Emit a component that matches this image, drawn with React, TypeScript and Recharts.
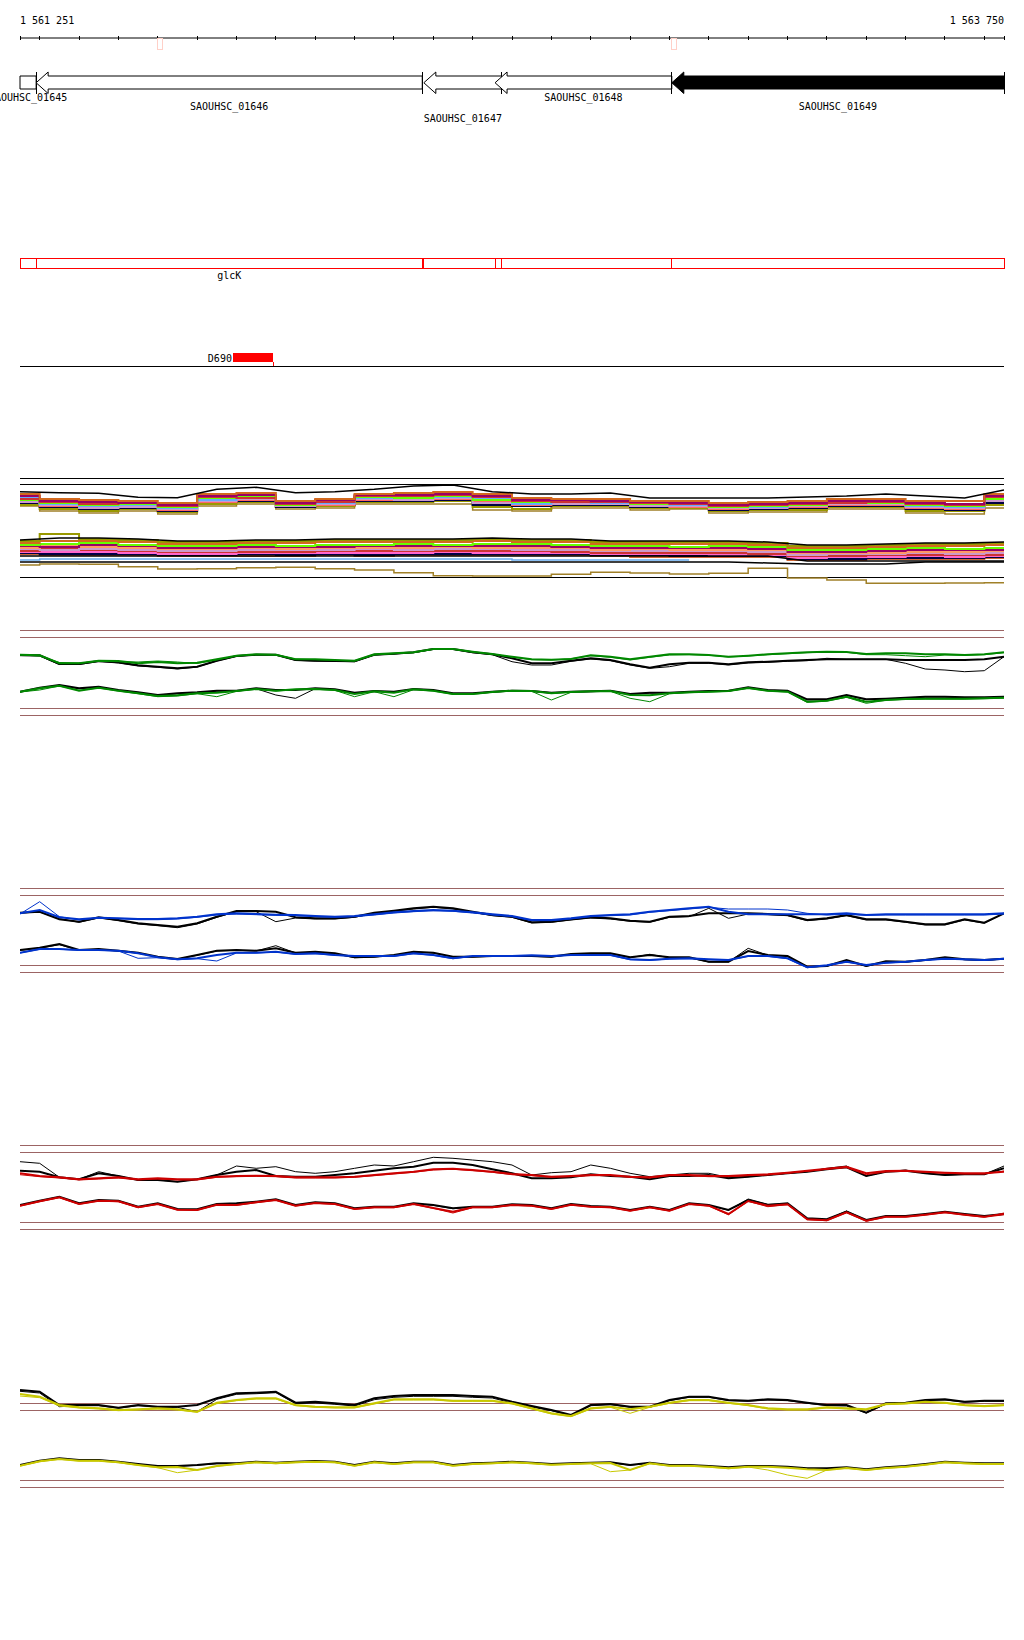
import React from "react";
import { ComposedChart, Line, XAxis, YAxis, ReferenceLine, ReferenceArea } from "recharts";

// genomic window shown
const START = 1561250;
const END = 1563750;
const START_LABEL = "1 561 251";
const END_LABEL = "1 563 750";

const RULER_TICKS = [
  1561250, 1561300, 1561400, 1561500, 1561600, 1561700, 1561800, 1561900, 1562000, 1562100,
  1562200, 1562300, 1562400, 1562500, 1562600, 1562700, 1562800, 1562900, 1563000, 1563100,
  1563200, 1563300, 1563400, 1563500, 1563600, 1563700, 1563750,
];
const MARKERS = [
  [1561600, 1561612],
  [1562906, 1562918],
];

const GENE_NAMES = ["SAOUHSC_01645", "SAOUHSC_01646", "SAOUHSC_01647", "SAOUHSC_01648", "SAOUHSC_01649"];
const GENE_START = [1561250, 1561291, 1562276, 1562457, 1562906];
const GENE_END = [1561291, 1562272, 1562474, 1562906, 1563750];

const OPERON_START = [1561250, 1561291, 1562276, 1562457, 1562474, 1562906];
const OPERON_END = [1561291, 1562272, 1562457, 1562474, 1562906, 1563750];
const OPERON_NAME = "glcK";

const FEATURE_NAME = "D690";
const FEATURE_START = 1561791;
const FEATURE_END = 1561894;

// sample positions (bp from START)
const SAMPLE_BP = [
  0, 50, 100, 150, 200, 250, 300, 350, 400, 450, 500, 550, 600, 650, 700, 750, 800, 850, 900, 950,
  1000, 1050, 1100, 1150, 1200, 1250, 1300, 1350, 1400, 1450, 1500, 1550, 1600, 1650, 1700, 1750,
  1800, 1850, 1900, 1950, 2000, 2050, 2100, 2150, 2200, 2250, 2300, 2350, 2400, 2450, 2500,
];
const BIN_BP = [
  0, 100, 200, 300, 400, 500, 600, 700, 800, 900, 1000, 1100, 1200, 1300, 1400, 1500, 1600, 1700,
  1800, 1900, 2000, 2100, 2200, 2300, 2400, 2500,
];

// multi-sample track (levels)
const A_TOP_BLACK = [98.3, 97.3, 96.7, 92.7, 92.3, 100.7, 102.7, 97.3, 98.3, 100.7, 104, 105, 98.3, 96, 96, 97, 92, 92, 92, 92, 93, 94, 96, 94, 92, 100];
const A1 = [96, 91, 90, 89, 87, 96, 97, 89, 91, 96, 97, 98, 96, 92, 91, 91, 89, 89, 87, 88, 89, 91, 91, 89, 89, 96];
const A2 = [94, 89, 88, 87, 85, 94, 95, 87, 90, 95, 95, 96, 94, 90, 90, 89, 88, 87, 85, 86, 87, 89, 89, 87, 86, 94];
const A3 = [90, 87, 85, 86, 83, 92, 93, 85, 88, 93, 92, 94, 90, 88, 89, 88, 86, 86, 83, 84, 85, 88, 87, 85, 84, 91];
const A4 = [92, 86, 84, 85, 82, 90, 94, 86, 87, 92, 93, 93, 92, 86, 88, 87, 87, 85, 84, 83, 86, 87, 88, 84, 83, 92];
const A5 = [88, 85, 82, 83, 81, 89, 91, 84, 86, 91, 90, 92, 87, 87, 86, 86, 84, 84, 82, 82, 84, 86, 86, 83, 82, 89];
const A6 = [89, 84, 83, 84, 80, 88, 90, 84, 85, 90, 91, 91, 89, 85, 87, 86, 85, 83, 81, 83, 83, 85, 85, 82, 81, 90];
const A7 = [87, 83, 81, 82, 79, 88, 89, 83, 85, 89, 89, 90, 85, 84, 85, 85, 83, 83, 80, 81, 82, 84, 84, 81, 80, 87];
const A8 = [85, 81, 79, 81, 78, 86, 88, 83, 84, 88, 88, 89, 83, 81, 84, 84, 82, 82, 79, 80, 80, 83, 83, 79, 79, 85];
const A9 = [91, 88, 86, 87, 84, 93, 92, 86, 88, 94, 94, 95, 93, 89, 88, 88, 87, 86, 84, 85, 86, 87, 88, 86, 85, 93];
const A10 = [84, 79, 77, 79, 76, 84, 86, 81, 82, 86, 86, 86, 80, 79, 82, 82, 80, 81, 77, 78, 78, 81, 81, 77, 76, 82];
const A_MID_BLACK = [50, 52, 52, 51, 49, 49, 50, 50, 51, 51, 51, 51, 52, 51, 51, 49, 49, 49, 49, 48, 45, 45, 46, 47, 47, 48];
const B1 = [49, 56, 51, 50, 48, 48, 49, 49, 50, 50, 50, 50, 51, 50, 50, 48, 48, 48, 48, 47, 44, 44, 45, 46, 46, 47];
const B2 = [47, 49, 49, 48, 46, 46, 47, 47, 48, 48, 48, 48, 49, 48, 48, 46, 46, 46, 46, 45, 42, 42, 43, 44, 44, 45];
const B3 = [45, 46, 47, 45, 44, 44, 45, 44, 45, 45, 46, 45, 46, 46, 45, 44, 44, 43, 44, 43, 40, 40, 41, 42, 41, 42];
const B4 = [44, 43, 45, 44, 42, 42, 43, 43, 43, 44, 44, 44, 44, 44, 43, 42, 42, 42, 42, 41, 38, 38, 39, 40, 40, 40];
const B5 = [42, 44, 43, 42, 41, 41, 42, 41, 42, 42, 42, 43, 42, 42, 42, 40, 41, 40, 40, 40, 37, 37, 37, 38, 38, 39];
const B6 = [41, 40, 41, 40, 39, 39, 40, 40, 40, 41, 40, 41, 41, 40, 40, 39, 39, 39, 39, 38, 35, 36, 36, 37, 36, 37];
const B7 = [39, 41, 40, 39, 38, 38, 38, 38, 39, 39, 39, 39, 39, 39, 38, 37, 37, 37, 37, 36, 34, 34, 35, 35, 35, 35];
const B8 = [38, 38, 38, 37, 36, 36, 37, 37, 37, 37, 37, 38, 37, 37, 37, 36, 36, 36, 35, 35, 32, 33, 33, 34, 33, 34];
const B9 = [37, 36, 36, 36, 35, 35, 36, 35, 36, 35, 36, 36, 36, 36, 36, 35, 35, 34, 34, 34, 31, 31, 32, 32, 32, 33];
const B10 = [36, 35, 35, 35, 34, 34, 34, 34, 35, 34, 35, 35, 35, 35, 35, 34, 33, 33, 33, 33, 30, 30, 31, 31, 31, 32];
const A_LO_BLACK1 = [34, 34, 34, 34, 34, 34, 34, 34, 34, 34, 34, 34, 34, 34, 34, 34, 34, 34, 34, 34, 29, 29, 29, 29, 29, 29];
const A_LO_BLUE = [30, 31, 31, 31, 31, 31, 31, 31, 31, 31, 31, 31, 31, 30, 30, 30, 30, 30, null, null, null, null, null, null, null, null];
const A_LO_BLACK2 = [28, 28, 28, 28, 28, 28, 28, 28, 28, 28, 28, 28, 28, 28, 28, 28, 28, 28, 28, 27, 26, 26, 26, 28, 28, 28];
const A_OLIVE = [25, 26, 25.7, 23.3, 21, 21.3, 22.3, 22.7, 21.3, 20, 17.3, 14.3, 14, 14, 15.7, 17.7, 17, 16, 16.7, 21.7, 12, 10, 6.7, 6.7, 7, 7.3];

// green track
const G_UP_GREEN = [65.3, 64.7, 56.7, 56.7, 59.3, 59, 56.7, 58, 56.7, 57.3, 60.7, 64.3, 65.7, 65.3, 60.7, 60.7, 60, 59.3, 65.7, 66.7, 67.7, 71, 71, 68.3, 66, 63.3, 60.7, 60.3, 61, 64.7, 63.3, 60.7, 63.3, 65.7, 65.7, 65, 63.3, 64.3, 65.7, 66.7, 67.7, 68.3, 68, 66, 66.7, 66.7, 65.7, 65.7, 65, 65.7, 67.7];
const G_UP_GREEN_THIN = [65, 64, 57.5, 57, 58.7, 58.3, 58, 59, 58, 56.5, 60, 64, 65.3, 65, 61, 60.3, 59.7, 59, 65, 66.3, 67.3, 70.7, 70.7, 68, 65.7, 63, 60.3, 60, 61.3, 64.3, 62.7, 60, 62.7, 65, 65.3, 64.7, 63, 64, 65.3, 66.3, 67.3, 68, 67.7, 65.3, 65.3, 64.3, 63.3, 65, 64.7, 65.3, 67.3];
const G_UP_BLACK = [65, 64.7, 56, 56, 59, 57.7, 54.7, 53.3, 51.7, 53.3, 59.3, 64, 65.3, 65.3, 60, 59.3, 59, 58.7, 65.3, 66.3, 67.7, 71, 71, 67.7, 65.7, 61.7, 56.7, 56.7, 59.3, 61.7, 60, 55.7, 52.3, 55.7, 57.3, 57.3, 55.7, 57.7, 58.3, 59.3, 60, 60.7, 60.7, 60.7, 60.7, 60, 60, 60, 60, 60.7, 63.3];
const G_UP_BLACK_THIN = [64.3, 64, 55.5, 55.5, 58.5, 57, 54, 52.7, 51, 53, 59, 63.7, 65, 65, 59.7, 59, 58.7, 58.3, 65, 66, 67.3, 70.7, 70.7, 67.3, 65.3, 58.3, 55, 55, 58.7, 61, 59.3, 55, 51.7, 53.3, 56.7, 56.7, 55, 57, 57.7, 58.7, 59.3, 61.7, 60.7, 60.7, 60.7, 56.7, 51, 50, 48.3, 49.3, 63.3];
const G_LO_BLACK = [28.3, 32.3, 35, 31.7, 33.3, 30, 27.7, 25, 26.7, 27.7, 29.3, 29.3, 31.7, 30, 30, 31.7, 30.7, 27.3, 29, 28.3, 31, 30, 26.7, 26.7, 28.3, 29.3, 29, 27.3, 28.3, 28.7, 29.3, 26, 27.3, 27.3, 28.3, 29, 29.3, 32.7, 30, 29.3, 20.7, 20.7, 25, 20.7, 21.3, 22.3, 23.3, 23.3, 22.7, 22.7, 23.3];
const G_LO_BLACK_THIN = [28, 32, 34.7, 31.3, 33, 29.7, 27.3, 24.7, 26.3, 27.3, 29, 29, 31.3, 25, 21.7, 31.3, 30.3, 27, 28.7, 28, 30.7, 29.7, 26.3, 26.3, 28, 29, 28.7, 27, 28, 28.3, 29, 25.7, 27, 27, 28, 28.7, 29, 32.3, 29.7, 29, 20, 20.3, 24.7, 20.3, 21, 22, 23, 23, 22.3, 22.3, 23];
const G_LO_GREEN = [28.3, 31.7, 34.3, 29.3, 32.3, 29.3, 26.7, 24, 24.7, 26.7, 27.3, 29, 31, 29.3, 30.7, 31, 30, 26, 28.7, 27.3, 30.7, 29.3, 26, 26, 28, 29.3, 29, 26.7, 28, 28.7, 29, 25, 24.7, 26.7, 27.7, 28.3, 29, 32, 29.3, 28.3, 18.3, 19.3, 23.3, 18.3, 20, 21, 21.3, 21.3, 21.3, 21.7, 22.3];
const G_LO_GREEN_THIN = [28, 30, 34, 29.7, 32, 29, 26.3, 23.3, 24, 26.3, 23.3, 28.7, 30.7, 29, 30.3, 30.7, 29.7, 23.3, 28.3, 23.3, 30.3, 29, 25.7, 25.7, 27.7, 29, 28.7, 20, 27.7, 28.3, 28.7, 21.7, 18.3, 26.3, 27.3, 28, 28.7, 31.7, 29, 28, 17.7, 19, 22.7, 16.7, 19.7, 20.7, 21, 21, 21, 21.3, 22];

// blue track
const B_UP_BLACK = [67.3, 68.3, 60.7, 58.3, 62.7, 60, 56.7, 55, 53.3, 56.7, 63.3, 69, 69, 68.3, 62.7, 61.7, 61.7, 63.3, 67.3, 69.3, 71.7, 73.3, 71.7, 68.3, 65, 63.3, 57.7, 58.3, 60.7, 62.7, 61.7, 59.3, 58.3, 63.3, 64, 66.7, 66.7, 66.7, 66, 65, 60, 61.7, 65, 60.7, 60.7, 58.3, 55.7, 55.7, 60.7, 57.3, 66.7];
const B_UP_BLACK_THIN = [67, 68, 61.3, 57.7, 62, 59.3, 56, 54.3, 52.3, 56, 62.7, 68.3, 68.3, 58.3, 62, 61, 61, 62.7, 66.7, 68.7, 71, 72.7, 71, 67.7, 64.3, 62.7, 57, 57.7, 60, 62, 61, 58.7, 57.7, 62.7, 63.3, 71.7, 61.7, 66, 65.3, 64.3, 59.3, 61, 64.3, 60, 60, 57.7, 55, 55, 60, 56.7, 66.7];
const B_UP_BLUE = [66.7, 70, 62.7, 60.7, 62.3, 61.7, 61, 61, 61.7, 63.3, 65.7, 66.7, 66, 65.3, 65, 64, 63.3, 64, 65.7, 67.7, 69, 70, 69.3, 67.7, 65.7, 64, 60, 60, 61.7, 64, 65, 65.7, 68.3, 70, 71.7, 73.3, 68.3, 65.7, 65.7, 65.7, 65.7, 65.7, 66.7, 65, 65.7, 65.7, 65.7, 65.7, 65.7, 65.7, 66.7];
const B_UP_BLUE_THIN = [66, 78.3, 63.3, 60, 62, 61.3, 60.3, 60.3, 61, 62.7, 65, 66, 65.3, 64.7, 64.3, 63.3, 62.7, 63.3, 65, 67, 68.3, 69.3, 68.7, 67, 65, 63.3, 59.3, 59.3, 61, 63.3, 64.3, 65, 67.7, 69.3, 71, 72.7, 71, 71, 71, 70, 66.7, 65, 65.7, 64.7, 65, 65, 65, 65, 65, 65, 66];
const B_LO_BLACK = [30, 32.3, 36, 30, 31, 29.3, 27.3, 23.3, 21, 25, 29.3, 30, 29.3, 31.7, 27.3, 28.3, 26.7, 22.7, 23.3, 25, 28.3, 27.3, 23.3, 23.3, 24, 24, 24, 23.3, 26, 26.7, 26.7, 22.7, 25, 22.7, 22.7, 18.3, 18.3, 29, 25, 24, 13.3, 14, 20, 14, 18.7, 18.3, 20, 22.7, 20.7, 20, 21.3];
const B_LO_BLACK_THIN = [29.7, 31.7, 35.3, 29.7, 30.7, 29, 27, 23, 20.7, 24.7, 29, 29.7, 29, 34.3, 27, 28, 26.3, 22.3, 23, 24.7, 28, 27, 23, 23, 23.7, 23.7, 23.7, 23, 25.7, 26.3, 26.3, 22.3, 25.7, 22.3, 22.3, 18, 18, 31.7, 24.7, 23.7, 13, 13.7, 19.7, 13.7, 18.3, 18, 19.7, 22.3, 20.3, 19.7, 21];
const B_LO_BLUE = [27.3, 31, 31, 30, 30, 29.3, 26.7, 22.7, 20.7, 21.7, 25, 27.3, 27.3, 28.3, 26, 26.7, 25, 24, 24, 24, 26.7, 25, 21.7, 24, 24, 24, 24.7, 24, 25, 25, 25, 20.7, 20, 21.3, 21.7, 20.7, 20, 24, 24, 21.7, 12.7, 14.7, 18.3, 15, 17.3, 18.3, 20, 21.3, 20.7, 20, 21.3];
const B_LO_BLUE_THIN = [27, 30.7, 30.7, 29.7, 29.7, 29, 21.7, 22.3, 20.3, 21.3, 19, 27, 27, 28, 25.7, 26.3, 24.7, 23.7, 23.7, 23.7, 26.3, 24.7, 21.3, 23.7, 23.7, 23.7, 24.3, 23.7, 24.7, 24.7, 24.7, 20.3, 19.7, 21, 21.3, 20.3, 19.7, 23.7, 23.7, 21.3, 12.3, 14.3, 18, 14.7, 17, 18, 19.7, 21, 20.3, 19.7, 21];

// red track
const R_UP_BLACK_THIN = [78.3, 76.7, 62.7, 60.7, 68.3, 64, 60, 60, 58.3, 60.7, 65, 74, 71.7, 73.3, 68.3, 66.7, 68.3, 71.7, 75, 74, 78.3, 82.7, 81.7, 80, 78.3, 75, 65, 67.3, 68.3, 75, 71.7, 66.7, 63.3, 65, 66.7, 66.7, 62.7, 63.3, 65, 66.7, 68.3, 71.7, 74, 64, 68.3, 70, 66.7, 65, 65.7, 65.7, 74];
const R_UP_BLACK = [69.3, 68.3, 62.7, 60.7, 66.7, 64, 60, 60, 58.3, 60.7, 65, 68.3, 70, 64, 63.3, 63.3, 65, 66.7, 69.3, 71.7, 73.3, 77.3, 77.3, 75, 70.7, 66.7, 61.7, 61.7, 62.7, 65.7, 64, 63.3, 60.7, 64, 64, 65, 61.7, 63.3, 65, 66.7, 68.3, 70.7, 72.7, 64, 68.3, 69.3, 66.7, 65, 65.7, 65.7, 71.7];
const R_UP_RED = [66.7, 64, 62.7, 60.7, 61.7, 62.7, 60.7, 61.7, 60.7, 60.7, 63.3, 64, 64.3, 64, 62.7, 62.7, 62.7, 63.3, 65, 66.7, 68.3, 70.7, 71.3, 70, 68.3, 66, 65, 63.3, 64, 65, 65, 63.3, 62.7, 65, 65, 64, 64, 65, 65.7, 67.3, 69.3, 71.3, 73.3, 66.7, 69, 69.3, 68.3, 67.3, 66.7, 66.7, 68.3];
const R_UP_RED_THIN = [65.3, 63.3, 62, 60, 61, 62, 60, 61, 60, 60, 62.7, 63.3, 63.7, 63.3, 62, 62, 62, 62.7, 64.3, 66, 67.7, 70, 70.7, 69.3, 67.7, 65.3, 64.3, 62.7, 63.3, 64.3, 64.3, 62.7, 62, 64.3, 64.3, 63.3, 63.3, 64.3, 65, 66.7, 68.7, 70.7, 72.3, 65.3, 68, 68.7, 67.7, 66.7, 66, 66, 69];
const R_LO_BLACK = [35, 39.3, 43.3, 36.7, 40, 39.3, 33.3, 36.7, 31, 30.7, 36, 36.7, 38.3, 40.7, 35, 37.7, 36.7, 31.7, 33.3, 33.3, 36.7, 35, 31.7, 33.3, 33.3, 35.7, 35, 31.7, 36, 34, 33.3, 30, 33.3, 30, 36.7, 35, 30, 40, 35, 36.7, 21.7, 20.7, 28.3, 20, 24, 24, 26, 28.3, 26, 24, 26];
const R_LO_BLACK_THIN = [34.7, 39, 43, 36.3, 39.7, 39, 33, 36.3, 30.7, 30.3, 35.7, 36.3, 38, 40.3, 34.7, 37.3, 36.3, 31.3, 33, 33, 36.3, 34.7, 31.3, 33, 33, 35.3, 34.7, 31.3, 35.7, 33.7, 33, 29.7, 33, 29.7, 36.3, 34.7, 29.7, 41, 35.7, 36.3, 21.3, 20.3, 29, 19.7, 23.7, 23.7, 25.7, 28, 25.7, 23.7, 25.7];
const R_LO_RED = [34.3, 38.7, 42.7, 36, 39.3, 38.7, 32.7, 36, 30.3, 30, 35.3, 35, 37.7, 40, 34.3, 37, 36, 31, 32.7, 32.7, 36, 32, 28.3, 32.7, 32.7, 35, 34.3, 31, 35.3, 33.3, 32.7, 29.3, 32.7, 29.3, 36, 34.3, 26, 39, 34.3, 35.7, 20.7, 19.7, 27.7, 19.3, 23.3, 23.3, 25.3, 27.7, 25.3, 23.3, 25.7];
const R_LO_RED_THIN = [34, 38.3, 42.3, 35.7, 39, 38.3, 32.3, 35.7, 30, 29.7, 35, 34.7, 37.3, 39.7, 34, 36.7, 35.7, 30.7, 32.3, 32.3, 35.7, 31.7, 27, 32.3, 32.3, 34.7, 34, 30.7, 35, 33, 32.3, 29, 32.3, 29, 35.7, 34, 25.3, 38.7, 33.3, 35.3, 20.3, 19.3, 27.3, 18.7, 23, 23, 25, 27.3, 25, 22.7, 27];

// yellow track
const Y_UP_BLACK = [110, 108.3, 95, 95, 95, 92.3, 95, 93.3, 93.3, 95, 101.7, 106.7, 107.3, 108.3, 97.3, 98.3, 96.7, 95, 101.7, 104, 105, 105, 105, 104, 103.3, 98.3, 94, 90, 85, 95, 96, 93.3, 93.3, 100, 103.3, 103.3, 100, 99.3, 100.7, 100, 97.3, 95, 95, 87.3, 96.7, 97.3, 100, 100.7, 98.3, 99.3, 99.3];
const Y_UP_BLACK_THIN = [108.7, 107, 93.3, 94.3, 94.3, 91.7, 94.3, 92.7, 92.7, 88.3, 100.7, 105.7, 106.3, 107.3, 96.3, 97, 95.7, 94, 100.3, 102.7, 103.7, 103.7, 103.7, 102.7, 102, 97, 93, 89.3, 84.3, 94.3, 95.3, 92.7, 92.7, 99.3, 102.7, 102.7, 99.3, 98.7, 100, 99.3, 96.7, 94.3, 94, 87, 96, 96.7, 99.3, 100, 97.7, 98.7, 98.7];
const Y_UP_YELLOW = [106, 103.3, 95, 92.7, 91.7, 90, 90.7, 91.7, 90.7, 88.3, 97.3, 100, 101.7, 101.7, 95, 93.3, 92.7, 92.7, 96.7, 100.7, 100.7, 100.7, 99.3, 99.3, 99.3, 96.7, 91.7, 86.7, 84, 91.7, 93.3, 90.7, 93.3, 97.3, 100, 100, 97.3, 95, 91.7, 90.7, 90.7, 92.7, 91.7, 90.7, 96, 96.7, 98.3, 97.3, 95, 94, 95];
const Y_UP_YELLOW_THIN = [104, 102.3, 94, 92, 91, 89.3, 90, 91, 90, 87.7, 96.3, 99.3, 101, 101, 94.3, 92.7, 92, 92, 96, 100, 100, 100, 98.7, 98.7, 98.7, 96, 91, 86, 83.3, 91, 92.7, 86.7, 92.7, 96.7, 99.3, 99.3, 96.7, 94.3, 91, 90, 90, 92, 91, 90, 95.3, 96, 97.7, 96.7, 94.3, 93.3, 94.3];
const Y_LO_BLACK = [35, 39.3, 41.7, 40, 40, 38.3, 36, 34, 34, 35, 36.7, 36.7, 38.3, 37.3, 38.3, 39, 38.3, 35, 38.3, 36.7, 38.3, 38.3, 35, 36.7, 37.3, 38.3, 37.3, 36, 36.7, 37.3, 37.7, 35, 37.3, 35, 35, 34, 32.7, 34, 34, 33.3, 31.7, 31.7, 32.7, 30.7, 32.7, 34, 36, 38.3, 37.3, 36.7, 36.7];
const Y_LO_BLACK_THIN = [34.7, 39, 41.3, 39.7, 39.7, 38, 35.7, 33.7, 33.7, 34.7, 36.3, 36.3, 38, 37, 38, 38.7, 38, 34.7, 38, 36.3, 38, 38, 34.7, 36.3, 37, 38, 37, 35.7, 36.3, 37, 37.3, 34.7, 37, 34.7, 34.7, 33.7, 32.3, 33.7, 33.7, 33, 31.3, 31.3, 32.3, 30.3, 32.3, 33.7, 35.7, 38, 37, 36.3, 36.3];
const Y_LO_YELLOW = [34.3, 38.7, 41, 39.3, 39.3, 37.7, 35, 32.7, 33, 30, 34, 36, 37.7, 36.7, 37.7, 38.3, 37.7, 34.3, 37.7, 36, 37.7, 37.7, 34.3, 36, 36.7, 37.7, 36.7, 35.3, 36, 36.7, 37, 30, 36.7, 34.3, 34.3, 33.3, 31.7, 33.3, 33.3, 32.3, 30.7, 30, 32, 30, 32, 33.3, 35.3, 37.7, 36.7, 36, 36];
const Y_LO_YELLOW_THIN = [34, 38.3, 40.7, 39, 39, 37.3, 34.7, 32.3, 27.3, 30, 33.7, 35.7, 37.3, 36.3, 37.3, 38, 37.3, 34, 37.3, 35.7, 37.3, 37.3, 34, 35.7, 36.3, 37.3, 36.3, 35, 35.7, 36.3, 28.3, 30, 36.3, 34, 34, 33, 31.3, 33, 30, 25, 21.7, 30, 31.7, 29.7, 31.7, 33, 35, 37.3, 36.3, 35.7, 35.7];

const FONT = "'DejaVu Sans Mono', monospace";
const BROWN = "#9c6464";
const M = { top: 0, right: 20, bottom: 0, left: 20 };
const LABEL_ROW = [0, 1, 2, 0, 1];
const FILLED_GENE = 4;

type Row = Record<string, number | null>;
function rows(offsets: number[], series: Record<string, (number | null)[]>): Row[] {
  return offsets.map((o, i) => {
    const r: Row = { pos: START + o };
    for (const k in series) r[k] = series[k][i];
    return r;
  });
}

type Spec = { key: string; color: string; w: number };

function Track({ top, height, data, lines, refs, refColor = BROWN, step = false }: {
  top: number; height: number; data: Row[]; lines: Spec[]; refs: number[]; refColor?: string; step?: boolean;
}) {
  return (
    <div style={{ position: "absolute", left: 0, top }}>
      <ComposedChart width={1024} height={height} data={data} margin={M}>
        <XAxis dataKey="pos" type="number" domain={[START, END]} hide allowDataOverflow />
        <YAxis type="number" domain={[0, height]} hide allowDataOverflow />
        {refs.map((r) => (
          <ReferenceLine key={r} y={r} stroke={refColor} strokeWidth={1} shapeRendering="crispEdges" />
        ))}
        {lines.map((l) => (
          <Line
            key={l.key}
            dataKey={l.key}
            type={step && l.color !== "#000" ? "step" : "linear"}
            stroke={l.color}
            strokeWidth={l.w}
            dot={false}
            activeDot={false}
            isAnimationActive={false}
          />
        ))}
      </ComposedChart>
    </div>
  );
}

const RulerTick = (p: any) => {
  const { x, y, payload } = p;
  return (
    <g>
      <line x1={x} x2={x} y1={y - 2} y2={y + 2} stroke="#000" shapeRendering="crispEdges" />
      {payload.value === START && (
        <text x={x} y={y - 14} fontSize={10} fontFamily={FONT} textAnchor="start">{START_LABEL}</text>
      )}
      {payload.value === END && (
        <text x={x} y={y - 14} fontSize={10} fontFamily={FONT} textAnchor="end">{END_LABEL}</text>
      )}
    </g>
  );
};

const geneShape = (i: number) => (p: any) => {
  const { x, y, width, height } = p;
  const x1 = x + width;
  const top = y + 4;
  const bot = y + height - 4.5;
  const mid = y + height / 2;
  const head = 12;
  const pts =
    GENE_START[i] > START
      ? `${x},${mid} ${x + head},${y} ${x + head},${top} ${x1},${top} ${x1},${bot} ${x + head},${bot} ${x + head},${y + height}`
      : `${x},${top} ${x1},${top} ${x1},${bot} ${x},${bot}`;
  const ly = y + height + [7, 16.5, 28.5][LABEL_ROW[i]];
  return (
    <g>
      <polygon points={pts} fill={i === FILLED_GENE ? "#000" : "#fff"} stroke="#000" strokeWidth={1} />
      <line x1={x1} x2={x1} y1={y} y2={y + height} stroke="#000" shapeRendering="crispEdges" />
      <text x={x + width / 2} y={ly} textAnchor="middle" fontSize={10} fontFamily={FONT}>{GENE_NAMES[i]}</text>
    </g>
  );
};

const operonShape = (i: number) => (p: any) => {
  const { x, y, width, height } = p;
  return (
    <g>
      <rect x={x} y={y} width={width} height={height} fill="none" stroke="#ff0000" shapeRendering="crispEdges" />
      {i === 1 && (
        <text x={x + width / 2} y={y + height + 10.5} textAnchor="middle" fontSize={10} fontFamily={FONT}>{OPERON_NAME}</text>
      )}
    </g>
  );
};

const featureShape = (p: any) => {
  const { x, y, width, height } = p;
  return (
    <g>
      <rect x={x} y={y} width={width} height={height} fill="#ff0000" shapeRendering="crispEdges" />
      <text x={x - 1} y={y + height} textAnchor="end" fontSize={10} fontFamily={FONT}>{FEATURE_NAME}</text>
    </g>
  );
};

const markerShape = (p: any) => (
  <rect x={p.x} y={p.y} width={p.width} height={p.height} fill="none" stroke="#ffd0c8" shapeRendering="crispEdges" />
);

const multiData = rows(BIN_BP, {
  kt: A_TOP_BLACK, a1: A1, a2: A2, a3: A3, a4: A4, a5: A5, a6: A6, a7: A7, a8: A8, a9: A9, a10: A10,
  km: A_MID_BLACK, b1: B1, b2: B2, b3: B3, b4: B4, b5: B5, b6: B6, b7: B7, b8: B8, b9: B9, b10: B10,
  kl1: A_LO_BLACK1, lb: A_LO_BLUE, kl2: A_LO_BLACK2, ol: A_OLIVE,
});
const multiLines: Spec[] = [
  { key: "a10", color: "#a08028", w: 1.5 },
  { key: "a8", color: "#999900", w: 2 },
  { key: "a7", color: "#000044", w: 2 },
  { key: "a6", color: "#ff6666", w: 2 },
  { key: "a5", color: "#cc99cc", w: 2 },
  { key: "a4", color: "#66aaff", w: 2 },
  { key: "a3", color: "#66ff00", w: 2 },
  { key: "a9", color: "#cc3333", w: 2 },
  { key: "a2", color: "#990066", w: 2 },
  { key: "a1", color: "#d2691e", w: 2 },
  { key: "kt", color: "#000", w: 1.5 },
  { key: "b10", color: "#cc6633", w: 2 },
  { key: "b9", color: "#000044", w: 2 },
  { key: "b8", color: "#ff66cc", w: 2 },
  { key: "b7", color: "#cc3333", w: 2 },
  { key: "b6", color: "#cc99cc", w: 2 },
  { key: "b5", color: "#ff9966", w: 2 },
  { key: "b4", color: "#990066", w: 2 },
  { key: "b3", color: "#66ff00", w: 2 },
  { key: "b2", color: "#d2691e", w: 2 },
  { key: "b1", color: "#999900", w: 2 },
  { key: "km", color: "#000", w: 1.5 },
  { key: "kl1", color: "#000", w: 1.5 },
  { key: "lb", color: "#66aaee", w: 1.5 },
  { key: "kl2", color: "#000", w: 1.5 },
  { key: "ol", color: "#a08028", w: 1.5 },
];

const greenData = rows(SAMPLE_BP, {
  ug: G_UP_GREEN, ugt: G_UP_GREEN_THIN, uk: G_UP_BLACK, ukt: G_UP_BLACK_THIN,
  lg: G_LO_GREEN, lgt: G_LO_GREEN_THIN, lk: G_LO_BLACK, lkt: G_LO_BLACK_THIN,
});
const blueData = rows(SAMPLE_BP, {
  ug: B_UP_BLUE, ugt: B_UP_BLUE_THIN, uk: B_UP_BLACK, ukt: B_UP_BLACK_THIN,
  lg: B_LO_BLUE, lgt: B_LO_BLUE_THIN, lk: B_LO_BLACK, lkt: B_LO_BLACK_THIN,
});
const redData = rows(SAMPLE_BP, {
  ug: R_UP_RED, ugt: R_UP_RED_THIN, uk: R_UP_BLACK, ukt: R_UP_BLACK_THIN,
  lg: R_LO_RED, lgt: R_LO_RED_THIN, lk: R_LO_BLACK, lkt: R_LO_BLACK_THIN,
});
const yellowData = rows(SAMPLE_BP, {
  ug: Y_UP_YELLOW, ugt: Y_UP_YELLOW_THIN, uk: Y_UP_BLACK, ukt: Y_UP_BLACK_THIN,
  lg: Y_LO_YELLOW, lgt: Y_LO_YELLOW_THIN, lk: Y_LO_BLACK, lkt: Y_LO_BLACK_THIN,
});

const pairLines = (color: string): Spec[] => [
  { key: "ukt", color: "#000", w: 1 },
  { key: "lkt", color: "#000", w: 1 },
  { key: "uk", color: "#000", w: 2 },
  { key: "lk", color: "#000", w: 2 },
  { key: "ugt", color, w: 1 },
  { key: "lgt", color, w: 1 },
  { key: "ug", color, w: 2 },
  { key: "lg", color, w: 2 },
];

export default function App() {
  const rulerData = RULER_TICKS.map((t) => ({ pos: t }));
  const geneData = GENE_START.map((s) => ({ pos: s }));
  return (
    <div style={{ position: "absolute", left: 0, top: 0, width: 1024, height: 1640, background: "#fff", fontFamily: FONT }}>
      {/* ruler */}
      <div style={{ position: "absolute", left: 0, top: 0 }}>
        <ComposedChart width={1024} height={40} data={rulerData} margin={M}>
          <XAxis
            dataKey="pos"
            type="number"
            domain={[START, END]}
            ticks={RULER_TICKS}
            interval={0}
            tickSize={0}
            tickMargin={0}
            height={2}
            tick={<RulerTick />}
            axisLine={{ stroke: "#000" }}
            tickLine={false}
            allowDataOverflow
          />
          <YAxis hide domain={[0, 1]} />
        </ComposedChart>
      </div>

      {/* genes */}
      <div style={{ position: "absolute", left: 0, top: 36 }}>
        <ComposedChart width={1024} height={94} data={geneData} margin={M}>
          <XAxis dataKey="pos" type="number" domain={[START, END]} hide allowDataOverflow />
          <YAxis type="number" domain={[0, 94]} reversed hide allowDataOverflow />
          {MARKERS.map(([a, b]) => (
            <ReferenceArea key={a} x1={a} x2={b} y1={2} y2={13} ifOverflow="visible" shape={markerShape} />
          ))}
          {GENE_NAMES.map((n, i) => (
            <ReferenceArea key={n} x1={GENE_START[i]} x2={GENE_END[i]} y1={36} y2={57.5} ifOverflow="visible" shape={geneShape(i)} />
          ))}
        </ComposedChart>
      </div>

      {/* operon */}
      <div style={{ position: "absolute", left: 0, top: 250 }}>
        <ComposedChart width={1024} height={40} data={geneData} margin={M}>
          <XAxis dataKey="pos" type="number" domain={[START, END]} hide allowDataOverflow />
          <YAxis type="number" domain={[0, 40]} reversed hide allowDataOverflow />
          {OPERON_START.map((s, i) => (
            <ReferenceArea key={s} x1={s} x2={OPERON_END[i]} y1={8.3} y2={18.3} ifOverflow="visible" shape={operonShape(i)} />
          ))}
        </ComposedChart>
      </div>

      {/* feature */}
      <div style={{ position: "absolute", left: 0, top: 340 }}>
        <ComposedChart width={1024} height={30} data={geneData} margin={M}>
          <XAxis dataKey="pos" type="number" domain={[START, END]} hide allowDataOverflow />
          <YAxis type="number" domain={[0, 30]} reversed hide allowDataOverflow />
          <ReferenceArea x1={FEATURE_START} x2={FEATURE_END} y1={13} y2={21.7} ifOverflow="visible" shape={featureShape} />
          <ReferenceLine y={26} stroke="#000" shapeRendering="crispEdges" />
          <ReferenceLine
            segment={[{ x: FEATURE_END, y: 21.7 }, { x: FEATURE_END, y: 26 }]}
            stroke="#ff0000"
            shapeRendering="crispEdges"
          />
        </ComposedChart>
      </div>

      <Track top={470} height={120} data={multiData} lines={multiLines} refs={[111.7, 105.7, 12.7]} refColor="#000" step />
      <Track top={620} height={100} data={greenData} lines={pairLines("#008800")} refs={[89.7, 82.7, 11.7, 4.3]} />
      <Track top={880} height={100} data={blueData} lines={pairLines("#0033cc")} refs={[91.7, 84.7, 14.7, 7.7]} />
      <Track top={1140} height={100} data={redData} lines={pairLines("#cc0000")} refs={[94.7, 87.7, 18, 10.7]} />
      <Track top={1380} height={120} data={yellowData} lines={pairLines("#c8c800")} refs={[96.7, 90, 20, 12.7]} />
    </div>
  );
}
